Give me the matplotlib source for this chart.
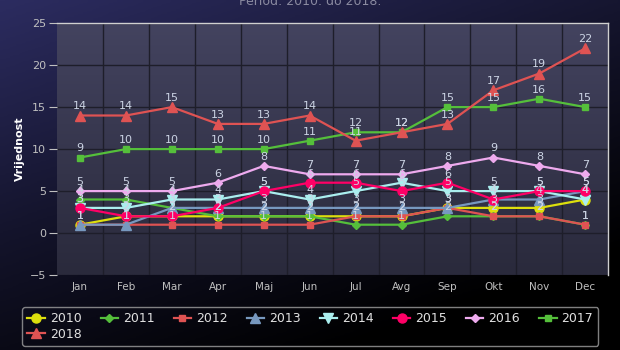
import numpy as np
import matplotlib
matplotlib.use("Agg")
import matplotlib.pyplot as plt
from matplotlib.colors import LinearSegmentedColormap

months = ["Jan", "Feb", "Mar", "Apr", "Maj", "Jun", "Jul", "Avg", "Sep", "Okt", "Nov", "Dec"]
years = ["2010", "2011", "2012", "2013", "2014", "2015", "2016", "2017", "2018"]

v2010 = [1, 2, 2, 2, 2, 2, 2, 2, 3, 3, 3, 4]
v2011 = [4, 4, 3, 2, 2, 2, 1, 1, 2, 2, 2, 1]
v2012 = [1, 1, 1, 1, 1, 1, 2, 2, 3, 2, 2, 1]
v2013 = [1, 1, 3, 3, 3, 3, 3, 3, 3, 4, 4, 5]
v2014 = [3, 3, 4, 4, 5, 4, 5, 6, 5, 5, 5, 4]
v2015 = [3, 2, 2, 3, 5, 6, 6, 5, 6, 4, 5, 5]
v2016 = [5, 5, 5, 6, 8, 7, 7, 7, 8, 9, 8, 7]
v2017 = [9, 10, 10, 10, 10, 11, 12, 12, 15, 15, 16, 15]
v2018 = [14, 14, 15, 13, 13, 14, 11, 12, 13, 17, 19, 22]

series = [v2010, v2011, v2012, v2013, v2014, v2015, v2016, v2017, v2018]
colors = ["#DDDF0D", "#55BF3B", "#DF5353", "#7798BF", "#aaeeee",
          "#ff0066", "#eeaaee", "#55BF3B", "#DF5353"]
markers = ["o", "D", "s", "^", "v", "o", "D", "s", "^"]
msizes = [6.5, 4, 5, 6.5, 6.5, 6.5, 4.5, 5, 6.5]

fig = plt.figure(figsize=(6.2, 3.5), dpi=100)

# background gradient (navy top-left to black bottom-right)
bg = fig.add_axes([0, 0, 1, 1], zorder=-10)
gx, gy = np.meshgrid(np.linspace(0, 1, 200), np.linspace(0, 1, 120))
g = np.clip((gx * 0.55 + gy * 0.9) / 1.2, 0, 1)
cmap_bg = LinearSegmentedColormap.from_list("bg", ["#2c2c60", "#14142c", "#000000"])
bg.imshow(g, cmap=cmap_bg, aspect="auto", extent=[0, 1, 0, 1])
bg.axis("off")

ax = fig.add_axes([0.092, 0.214, 0.889, 0.72])
x = np.arange(len(months))
ax.set_xlim(-0.5, 11.5)
ax.set_ylim(-5, 25)

# plot area gradient
pg = np.linspace(0, 1, 100).reshape(-1, 1) * np.ones((1, 50))
cmap_pa = LinearSegmentedColormap.from_list("pa", ["#43435f", "#2a2a3c"])
ax.imshow(pg, cmap=cmap_pa, aspect="auto", extent=[-0.5, 11.5, -5, 25],
          zorder=0, origin="upper")

for yv in range(-5, 26, 5):
    ax.axhline(yv, color="#1e1e2a", lw=1, zorder=1)
for xb in np.arange(0.5, 11.5, 1):
    ax.axvline(xb, color="#1e1e2a", lw=1, zorder=1)

for i, (vals, yr) in enumerate(zip(series, years)):
    ax.plot(x, vals, color=colors[i], marker=markers[i], ms=msizes[i],
            lw=1.6, label=yr, zorder=3 + i)

for i, vals in enumerate(series):
    for xi, v in zip(x, vals):
        ax.annotate(str(v), (xi, v), xytext=(0, 3), textcoords="offset points",
                    ha="center", va="bottom", fontsize=8, color="#ccd4e4", zorder=20)

ax.set_xticks(x)
ax.set_xticklabels(months)
ax.set_yticks(range(-5, 26, 5))
ax.tick_params(axis="x", colors="#c0c0c0", labelsize=7.5, length=0, pad=5)
ax.tick_params(axis="y", colors="#c0c0c0", labelsize=8, length=6, pad=2)
for s in ["left", "bottom"]:
    ax.spines[s].set_visible(False)
for s in ["top", "right"]:
    ax.spines[s].set_color("#d0d0d0")
    ax.spines[s].set_linewidth(1)
ax.set_ylabel("Vrijednost", color="white", fontsize=8, fontweight="bold", labelpad=3)

fig.text(0.5, 0.995, "Period: 2010. do 2018.", ha="center", va="center",
         color="#8a8aa0", fontsize=9)

h, l = ax.get_legend_handles_labels()
order = [0, 8, 1, 2, 3, 4, 5, 6, 7]
leg = fig.legend([h[k] for k in order], [l[k] for k in order], ncol=8,
                 loc="lower left", bbox_to_anchor=(0.032, 0.005, 0.937, 0.12),
                 mode="expand", fontsize=9, frameon=True, handlelength=1.4,
                 handletextpad=0.4, borderaxespad=0.2, labelspacing=0.2)
leg.get_frame().set_facecolor("none")
leg.get_frame().set_edgecolor("#a0a0a0")
for t in leg.get_texts():
    t.set_color("#e0e0e0")

fig.savefig("out.png", dpi=100)
